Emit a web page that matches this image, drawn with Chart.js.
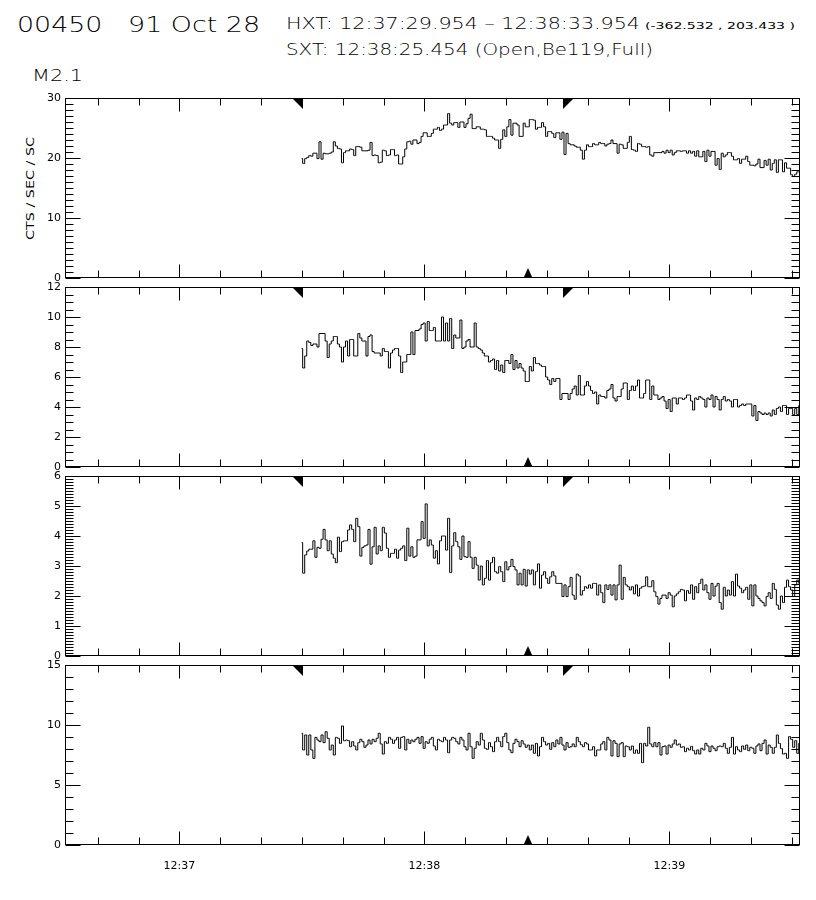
<!DOCTYPE html>
<html>
<head>
<meta charset="utf-8">
<script src="https://cdn.jsdelivr.net/npm/chart.js@4.4.1/dist/chart.umd.min.js"></script>
<style>
html,body{margin:0;padding:0;background:#fff;}
#wrap{position:relative;width:816px;height:900px;overflow:hidden;background:#fff;}
#wrap canvas{position:absolute;left:0;top:0;}
.t{position:absolute;font-family:"DejaVu Sans ExtraLight","DejaVu Sans",sans-serif;font-weight:200;color:#000;white-space:pre;line-height:1;transform-origin:0 0;}
.t.reg{font-family:"DejaVu Sans",sans-serif;font-weight:400;}
#ytitle{position:absolute;font-family:"DejaVu Sans",sans-serif;font-size:11px;line-height:1;white-space:pre;color:#000;transform-origin:50% 50%;}
</style>
</head>
<body>
<div id="wrap">
  <div class="t" data-x="17" data-base="33" data-w="243" style="font-size:21px">00450   91 Oct 28</div>
  <div class="t" data-x="286" data-base="29.5" data-w="354" style="font-size:15px">HXT: 12:37:29.954 – 12:38:33.954</div>
  <div class="t reg" data-x="645" data-base="29.5" data-w="150" style="font-size:9px">(-362.532 , 203.433 )</div>
  <div class="t" data-x="286" data-base="56" data-w="367" style="font-size:15px">SXT: 12:38:25.454 (Open,Be119,Full)</div>
  <div class="t" data-x="32" data-base="82" data-w="51" style="font-size:16px">M2.1</div>
  <div id="ytitle">CTS / SEC / SC</div>
  <canvas id="c1" width="816" height="900"></canvas>
  <canvas id="c2" width="816" height="900"></canvas>
  <canvas id="c3" width="816" height="900"></canvas>
  <canvas id="c4" width="816" height="900"></canvas>
</div>
<script>
// ---------------- data ----------------
const axisStart = "12:36:32";
const axisEnd   = "12:39:32";
const hxtStart  = "12:37:29.954";
const hxtEnd    = "12:38:33.954";
const sxtTime   = "12:38:25.454";
const binStart  = "12:37:29.954";   // first accumulation
const binWidth  = 0.5;              // seconds per HXT bin

const xTickTimes  = ["12:37:00", "12:38:00", "12:39:00"];
const xTickLabels = ["12:37", "12:38", "12:39"];

const yTicks1 = [0, 10, 20, 30];
const yTicks2 = [0, 2, 4, 6, 8, 10, 12];
const yTicks3 = [0, 1, 2, 3, 4, 5, 6];
const yTicks4 = [0, 5, 10, 15];

const yTitle1 = "CTS / SEC / SC";

const series1 = [
 19.9,19.1,19.9,20.1,20.4,20.3,20.8,20.8,19.9,22.7,
 19.8,20.8,20.7,20.7,20.8,21.0,22.7,22.0,21.6,21.5,
 19.2,20.9,21.2,21.2,21.5,21.4,20.4,21.9,21.9,21.8,
 21.2,21.2,21.2,21.3,22.6,20.4,20.5,20.4,19.2,19.3,
 21.3,21.2,20.4,20.5,21.4,21.4,20.4,20.5,19.0,19.0,
 20.2,21.5,22.7,22.8,22.3,23.0,23.0,22.4,22.6,
 23.6,24.2,24.2,23.6,23.6,24.1,24.8,24.8,25.1,24.6,
 24.8,25.5,25.5,27.4,25.8,25.5,25.9,25.9,25.1,26.0,
 26.0,25.1,25.7,26.6,27.3,24.9,24.9,25.2,25.2,24.8,
 24.8,24.7,23.6,23.6,23.6,23.3,23.0,23.0,21.6,23.1,
 24.7,23.6,25.2,26.4,23.8,25.8,25.8,25.5,23.6,23.6,
 25.8,25.2,25.2,26.4,26.4,26.3,24.8,25.1,25.1,25.9,
 25.2,23.6,24.4,24.4,24.1,23.4,24.2,24.2,23.1,24.3,
 20.6,24.1,22.4,22.2,22.2,22.0,21.8,21.8,21.3,19.8,
 21.3,22.2,21.9,21.9,22.4,22.2,22.2,22.6,22.4,22.4,
 22.0,22.3,22.4,23.0,22.4,22.4,20.8,22.3,22.2,21.6,
 21.6,22.6,23.6,21.4,21.3,21.1,22.4,22.3,21.9,21.9,
 21.8,21.9,20.5,20.3,20.9,20.9,20.9,20.9,21.1,20.8,
 21.3,20.9,21.3,20.5,20.9,21.2,21.2,21.1,21.2,21.2,
 20.8,21.2,20.8,21.1,20.3,21.2,20.2,20.2,21.1,19.4,
 21.3,20.3,21.1,21.1,18.8,19.9,18.1,20.8,20.2,20.5,
 20.9,20.9,20.3,19.7,19.7,19.9,19.1,19.8,19.8,20.3,
 19.4,18.8,18.8,18.7,19.0,19.8,18.4,18.4,19.6,18.8,
 19.8,18.0,19.1,19.7,17.6,19.7,19.7,17.7,19.2,18.3,
 18.3,17.2,16.9,17.3,17.7,17.7
];

const series2 = [
 7.9,6.6,7.4,8.4,8.3,8.1,8.2,8.2,8.0,8.9,
 8.9,8.9,8.4,7.3,8.2,8.4,8.7,8.7,8.2,8.0,
 7.0,8.0,8.4,7.4,8.5,8.5,7.4,7.4,8.9,8.6,
 8.4,8.4,7.4,8.7,8.8,7.7,7.6,7.6,7.6,7.4,
 7.9,7.7,7.7,6.6,7.6,7.8,7.9,7.9,7.4,6.3,
 7.0,7.0,7.5,7.5,9.0,7.5,9.1,9.1,9.2,9.5,
 9.6,8.4,9.7,9.1,9.1,9.3,8.4,8.4,8.4,10.0,
 8.4,9.6,8.4,9.9,7.9,8.8,8.6,8.6,9.8,7.9,
 8.0,8.4,8.5,8.0,8.0,9.6,8.0,7.9,7.8,7.6,
 7.4,7.4,7.0,7.1,7.2,6.5,7.1,6.4,6.8,6.3,
 7.1,7.1,6.9,7.5,6.5,7.1,6.6,6.9,6.6,6.4,
 5.7,5.7,6.7,6.4,7.3,6.9,6.9,6.8,6.7,6.7,
 6.0,5.8,5.5,5.9,5.7,5.9,5.9,
 4.5,4.9,4.9,4.9,4.5,4.9,5.2,5.4,4.8,6.1,
 4.8,4.8,5.4,5.7,5.4,5.1,4.9,5.0,4.2,4.8,
 4.7,4.7,4.6,5.1,5.2,5.5,4.6,4.4,4.7,4.7,
 5.2,5.6,5.6,4.5,5.1,5.4,5.1,5.4,5.8,4.6,
 4.6,4.9,5.8,5.8,4.5,5.4,4.8,4.8,4.5,4.6,
 4.7,4.4,3.9,4.5,3.7,4.6,4.6,4.2,4.6,4.6,
 4.5,4.6,4.8,4.8,4.4,3.8,4.6,4.5,4.7,4.6,
 4.5,4.0,4.6,4.5,4.8,4.0,4.7,4.5,3.8,4.5,
 4.7,4.4,4.5,4.4,4.0,4.5,4.5,4.0,4.1,4.2,
 4.1,4.2,4.2,4.2,3.4,4.1,3.1,3.7,3.6,3.5,
 3.6,3.5,3.6,3.4,3.8,3.5,3.9,4.0,3.7,4.1,
 4.1,3.5,3.9,3.9,3.5,3.9,3.5,4.1
];

const series3 = [
 3.78,2.76,3.37,3.50,3.56,3.56,3.84,3.29,3.62,3.59,
 3.89,4.22,3.87,3.51,3.84,3.40,3.26,3.11,3.96,3.48,
 3.81,3.84,3.84,4.20,4.37,4.22,3.81,4.59,4.31,3.33,
 3.62,3.67,3.70,4.22,3.06,3.64,4.29,3.40,3.67,3.51,
 4.29,4.10,3.59,3.29,3.42,3.42,3.56,3.26,3.53,3.59,
 3.67,3.18,4.26,3.33,3.64,3.29,3.33,3.87,3.87,4.48,
 3.92,5.07,3.67,3.87,3.70,3.26,3.51,3.07,3.84,4.00,
 4.00,3.53,4.59,2.78,3.67,4.11,3.81,3.64,3.22,4.00,
 3.31,3.29,3.81,3.29,2.92,3.29,3.03,2.53,3.00,2.37,
 2.59,3.18,2.53,3.11,3.29,2.81,2.76,2.98,2.81,2.48,
 3.14,2.87,2.98,3.22,2.98,2.87,2.37,2.76,2.37,2.89,
 2.33,2.87,2.73,2.87,2.37,2.81,3.07,2.26,2.70,2.81,
 2.59,2.42,
 2.64,2.81,2.67,2.42,2.42,2.42,1.98,2.37,1.98,2.31,
 2.62,2.03,1.89,2.73,2.67,2.03,2.18,2.31,2.26,2.37,
 2.26,2.42,2.42,2.03,2.37,2.11,1.78,2.37,2.22,2.37,
 2.03,2.37,1.87,2.37,3.03,1.89,2.62,2.37,2.31,2.20,
 2.31,2.07,2.37,2.00,2.26,2.31,2.33,2.64,2.31,2.31,
 2.51,2.14,1.98,1.73,1.92,2.03,2.03,1.92,2.11,2.03,
 1.64,2.00,2.07,2.14,2.22,2.20,1.84,2.18,2.09,2.37,
 1.89,2.31,2.11,2.42,2.56,2.20,2.37,2.11,1.89,2.42,
 2.00,2.33,2.42,1.78,1.56,2.29,2.00,2.20,2.03,2.48,
 2.00,2.73,2.33,2.26,2.11,2.20,2.29,1.89,2.37,1.67,
 2.37,2.00,1.92,1.84,1.78,1.67,1.98,2.11,1.92,2.42,
 2.22,1.70,1.56,2.00,1.78,2.29,2.53,2.31,2.20,1.98,
 2.37,2.53,2.42
];

const series4 = [
 9.31,7.92,9.17,7.50,9.17,7.92,7.22,8.97,8.75,8.61,
 9.17,8.53,9.44,8.89,7.92,8.33,7.50,8.97,8.89,8.47,
 9.92,8.69,8.75,8.69,8.19,8.61,8.25,7.92,8.53,8.81,
 8.61,8.14,8.33,8.75,8.42,8.81,8.61,8.89,9.31,8.42,
 7.58,8.61,8.47,8.97,8.81,8.47,8.75,8.97,8.06,8.97,
 9.03,7.92,8.81,8.47,8.75,8.61,8.81,8.97,8.47,9.03,
 8.06,8.61,8.47,8.81,8.97,8.25,7.92,8.81,8.69,8.61,
 8.97,8.75,7.69,8.75,8.97,8.89,8.61,8.42,8.97,8.75,
 8.19,7.92,9.31,8.19,7.22,8.06,8.61,8.33,9.31,8.75,
 8.06,7.97,8.53,8.19,7.78,8.61,8.97,8.61,8.19,9.03,
 9.31,8.53,7.92,7.69,8.47,8.81,8.61,8.19,8.69,8.42,
 8.14,8.33,7.92,8.33,7.64,8.47,7.42,8.19,8.97,8.61,
 8.33,8.47,7.97,8.53,8.19,8.75,8.42,
 8.97,8.33,7.92,8.53,8.14,8.19,8.42,8.19,8.97,8.61,8.36,
 8.19,8.53,8.42,7.92,7.92,8.19,7.42,7.92,7.92,8.42,8.61,
 7.92,8.97,8.75,7.42,8.69,8.47,7.36,8.42,8.53,7.36,8.25,
 8.19,7.92,8.25,7.64,7.92,7.64,8.47,6.86,8.47,8.25,
 9.81,8.42,8.19,8.53,8.19,8.53,7.50,8.19,8.25,7.58,8.33,
 8.14,8.42,8.75,8.33,8.42,8.14,8.19,7.78,8.06,7.92,8.22,
 7.86,7.58,7.92,7.58,8.06,7.92,8.47,8.25,7.78,8.25,8.06,
 7.86,8.19,8.25,8.19,8.47,8.06,7.64,8.14,8.97,7.58,8.19,
 7.92,7.78,8.25,7.97,8.33,7.86,8.14,8.06,7.64,8.25,8.42,
 7.86,8.47,8.75,7.58,8.33,8.14,7.64,8.14,9.17,8.47,8.03,
 7.58,7.64,7.22,9.03,8.81,8.14,8.69,7.64,8.47
];

// ---------------- helpers ----------------
function sec(t){ const p = t.split(':').map(Number); return p[0]*3600 + p[1]*60 + p[2]; }
const X0 = sec(axisStart), X1 = sec(axisEnd), B0 = sec(binStart);
function pts(vals){ return vals.map((v,i) => ({x: B0 + i*binWidth, y: v})); }

const FONT = {family: '"DejaVu Sans", sans-serif', size: 11};

const idlFrame = {
  id: 'idlFrame',
  afterDraw(chart, args, o){
    const {ctx, chartArea: a, scales: {x, y}} = chart;
    ctx.save();
    ctx.strokeStyle = '#000'; ctx.fillStyle = '#000'; ctx.lineWidth = 1;
    const L = Math.round(a.left) + 0.5, R = Math.round(a.right) - 0.5;
    const T = Math.round(a.top) + 0.5,  B = Math.round(a.bottom) - 0.5;
    ctx.strokeRect(L, T, R - L, B - T);
    ctx.beginPath();
    for (let t = Math.ceil(X0/10)*10; t <= X1; t += 10){
      const px = Math.round(x.getPixelForValue(t)) + 0.5;
      const len = (t % 60 === 0) ? 13 : 7;
      ctx.moveTo(px, T); ctx.lineTo(px, T + len);
      ctx.moveTo(px, B); ctx.lineTo(px, B - len);
    }
    const n = Math.round((y.max - y.min) / o.minor);
    for (let k = 0; k <= n; k++){
      const v = y.min + k*o.minor;
      const py = Math.round(y.getPixelForValue(v)) + 0.5;
      const r = v / o.major;
      const len = Math.abs(r - Math.round(r)) < 1e-6 ? 15 : 8;
      ctx.moveTo(L, py); ctx.lineTo(L + len, py);
      ctx.moveTo(R, py); ctx.lineTo(R - len, py);
    }
    ctx.stroke();
    // HXT interval markers (top) and SXT marker (bottom)
    const xs = Math.round(x.getPixelForValue(sec(hxtStart)));
    const xe = Math.round(x.getPixelForValue(sec(hxtEnd)));
    const xx = Math.round(x.getPixelForValue(sec(sxtTime)));
    const Tt = Math.round(a.top), Bb = Math.round(a.bottom);
    ctx.beginPath(); ctx.moveTo(xs - 10, Tt); ctx.lineTo(xs + 1, Tt); ctx.lineTo(xs + 1, Tt + 11); ctx.closePath(); ctx.fill();
    ctx.beginPath(); ctx.moveTo(xe, Tt); ctx.lineTo(xe + 11, Tt); ctx.lineTo(xe, Tt + 11); ctx.closePath(); ctx.fill();
    ctx.beginPath(); ctx.moveTo(xx - 4.5, Bb); ctx.lineTo(xx + 4.5, Bb); ctx.lineTo(xx, Bb - 10); ctx.closePath(); ctx.fill();
    ctx.restore();
  }
};

const panels = [
  {id:'c1', data: series1, ymax: 30, yTicks: yTicks1, minor: 1,   major: 10, top: 98,  bottom: 278},
  {id:'c2', data: series2, ymax: 12, yTicks: yTicks2, minor: 0.5, major: 2,  top: 287, bottom: 467},
  {id:'c3', data: series3, ymax: 6,  yTicks: yTicks3, minor: 0.1, major: 1,  top: 476, bottom: 656},
  {id:'c4', data: series4, ymax: 15, yTicks: yTicks4, minor: 1,   major: 5,  top: 665, bottom: 845, xlabels: true}
];

panels.forEach(p => {
  const xAxisH = p.xlabels ? 55 : 0;
  new Chart(document.getElementById(p.id), {
    type: 'line',
    data: { datasets: [{
      data: pts(p.data),
      stepped: 'middle',
      borderColor: '#000', borderWidth: 1,
      pointRadius: 0, fill: false, tension: 0
    }]},
    plugins: [idlFrame],
    options: {
      responsive: false, animation: false, devicePixelRatio: 1, events: [],
      layout: { padding: { left: 20, right: 16, top: p.top, bottom: 900 - p.bottom - xAxisH } },
      plugins: {
        legend: {display: false}, tooltip: {enabled: false},
        idlFrame: {minor: p.minor, major: p.major}
      },
      scales: {
        x: {
          type: 'linear', min: X0, max: X1,
          display: !!p.xlabels,
          grid: {display: false, drawTicks: false},
          border: {display: false},
          afterBuildTicks: s => { s.ticks = xTickTimes.map(t => ({value: sec(t)})); },
          afterFit: s => { s.height = xAxisH; },
          ticks: {
            autoSkip: false, maxRotation: 0, minRotation: 0, padding: 15,
            color: '#000', font: FONT,
            callback: (v, i) => xTickLabels[i]
          }
        },
        y: {
          type: 'linear', min: 0, max: p.ymax, position: 'left',
          grid: {display: false, drawTicks: false},
          border: {display: false},
          afterBuildTicks: s => { s.ticks = p.yTicks.map(v => ({value: v})); },
          afterFit: s => { s.width = 45; },
          ticks: { padding: 4, color: '#000', font: FONT, autoSkip: false }
        }
      }
    }
  });
});

// ---------------- header text fitting ----------------
document.querySelectorAll('.t').forEach(el => {
  const fs = parseFloat(el.style.fontSize);
  el.style.left = el.dataset.x + 'px';
  el.style.top = (parseFloat(el.dataset.base) - 0.846*fs) + 'px';
  const w = el.getBoundingClientRect().width;
  el.style.transform = 'scaleX(' + (parseFloat(el.dataset.w) / w) + ')';
});
(function(){
  const el = document.getElementById('ytitle');
  el.textContent = yTitle1;
  const w = el.getBoundingClientRect().width, h = el.getBoundingClientRect().height;
  el.style.left = (31 - w/2) + 'px';
  el.style.top = (188.5 - h/2) + 'px';
  el.style.transform = 'rotate(-90deg) scaleX(' + (103 / w) + ')';
})();
</script>
</body>
</html>
